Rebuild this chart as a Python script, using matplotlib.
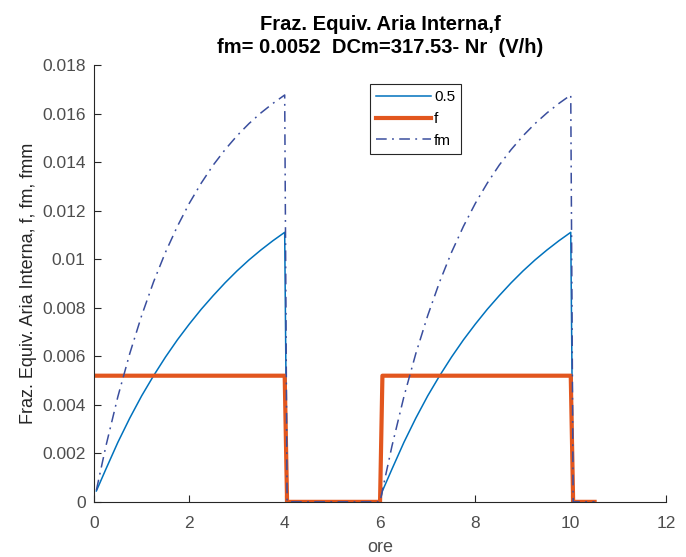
import matplotlib
matplotlib.use('Agg')
import matplotlib.pyplot as plt
from matplotlib.ticker import FuncFormatter

plt.rcParams['font.family'] = ['Liberation Sans', 'DejaVu Sans']

# hours
ore = [0.05, 0.25, 0.5, 0.75, 1.0, 1.25, 1.5, 1.75, 2.0, 2.25, 2.5, 2.75, 3.0, 3.25, 3.5, 3.75, 4.0,
       4.05, 5.0, 6.0,
       6.05, 6.25, 6.5, 6.75, 7.0, 7.25, 7.5, 7.75, 8.0, 8.25, 8.5, 8.75, 9.0, 9.25, 9.5, 9.75, 10.0,
       10.05, 10.5]

f_05 = [0.00045, 0.00135, 0.00245, 0.00345, 0.00437, 0.00520, 0.00597, 0.00668, 0.00733, 0.00794,
        0.00850, 0.00903, 0.00952, 0.00997, 0.01038, 0.01076, 0.01111,
        0.0, 0.0, 0.0,
        0.00045, 0.00135, 0.00245, 0.00345, 0.00437, 0.00520, 0.00597, 0.00668, 0.00733, 0.00794,
        0.00850, 0.00903, 0.00952, 0.00997, 0.01038, 0.01076, 0.01111,
        0.0, 0.0]

f = [0.0052] * 17 + [0.0, 0.0, 0.0] + [0.0052] * 17 + [0.0, 0.0]

fm = [0.00048, 0.00230, 0.00433, 0.00611, 0.00768, 0.00907, 0.01029, 0.01136, 0.01231, 0.01314,
      0.01388, 0.01452, 0.01509, 0.01559, 0.01603, 0.01642, 0.01677,
      0.0, 0.0, 0.0,
      0.00048, 0.00230, 0.00433, 0.00611, 0.00768, 0.00907, 0.01029, 0.01136, 0.01231, 0.01314,
      0.01388, 0.01452, 0.01509, 0.01559, 0.01603, 0.01642, 0.01677,
      0.0, 0.0]

fig = plt.figure(figsize=(6.86, 5.57), dpi=100)
ax = fig.add_axes([0.137, 0.099, 0.834, 0.784])

plt.plot(ore, f_05, color='#0072BD', linewidth=1.1, label='0.5')
plt.plot(ore, f, color='#E2561E', linewidth=3.0, label='f')
plt.plot(ore, fm, color='#3A4E9E', linewidth=1.1, linestyle=(0, (7, 3.5, 1.2, 3.5)), label='fm')

ax.set_xlim(0, 12)
ax.set_ylim(0, 0.018)
ax.set_xticks(range(0, 13, 2))
ax.set_yticks([i * 0.002 for i in range(10)])
ax.yaxis.set_major_formatter(FuncFormatter(lambda v, p: '%g' % round(v, 4)))

for side in ['top', 'right']:
    ax.spines[side].set_visible(False)
for side in ['left', 'bottom']:
    ax.spines[side].set_color('#262626')
    ax.spines[side].set_linewidth(0.8)
ax.tick_params(direction='in', length=5, width=0.8, color='#262626',
               labelsize=12.5, labelcolor='#4d4d4d')
ax.tick_params(axis='x', pad=10)
ax.tick_params(axis='y', pad=6)

plt.title('Fraz. Equiv. Aria Interna,f\nfm= 0.0052  DCm=317.53- Nr  (V/h)',
          fontsize=14.5, fontweight='bold', color='black', linespacing=1.25, pad=9)
plt.xlabel('ore', fontsize=13, color='#4d4d4d', labelpad=6)
plt.ylabel('Fraz. Equiv. Aria Interna, f, fm, fmm', fontsize=13, color='#262626', labelpad=4)

leg = plt.legend(loc='upper left', bbox_to_anchor=(0.4825, 0.9565), fontsize=11,
                 handlelength=3.6, handletextpad=0.2, labelspacing=0.5,
                 borderpad=0.4, borderaxespad=0, fancybox=False, framealpha=1)
leg.get_frame().set_edgecolor('#262626')
leg.get_frame().set_linewidth(0.8)

plt.savefig('out.png', dpi=100)
